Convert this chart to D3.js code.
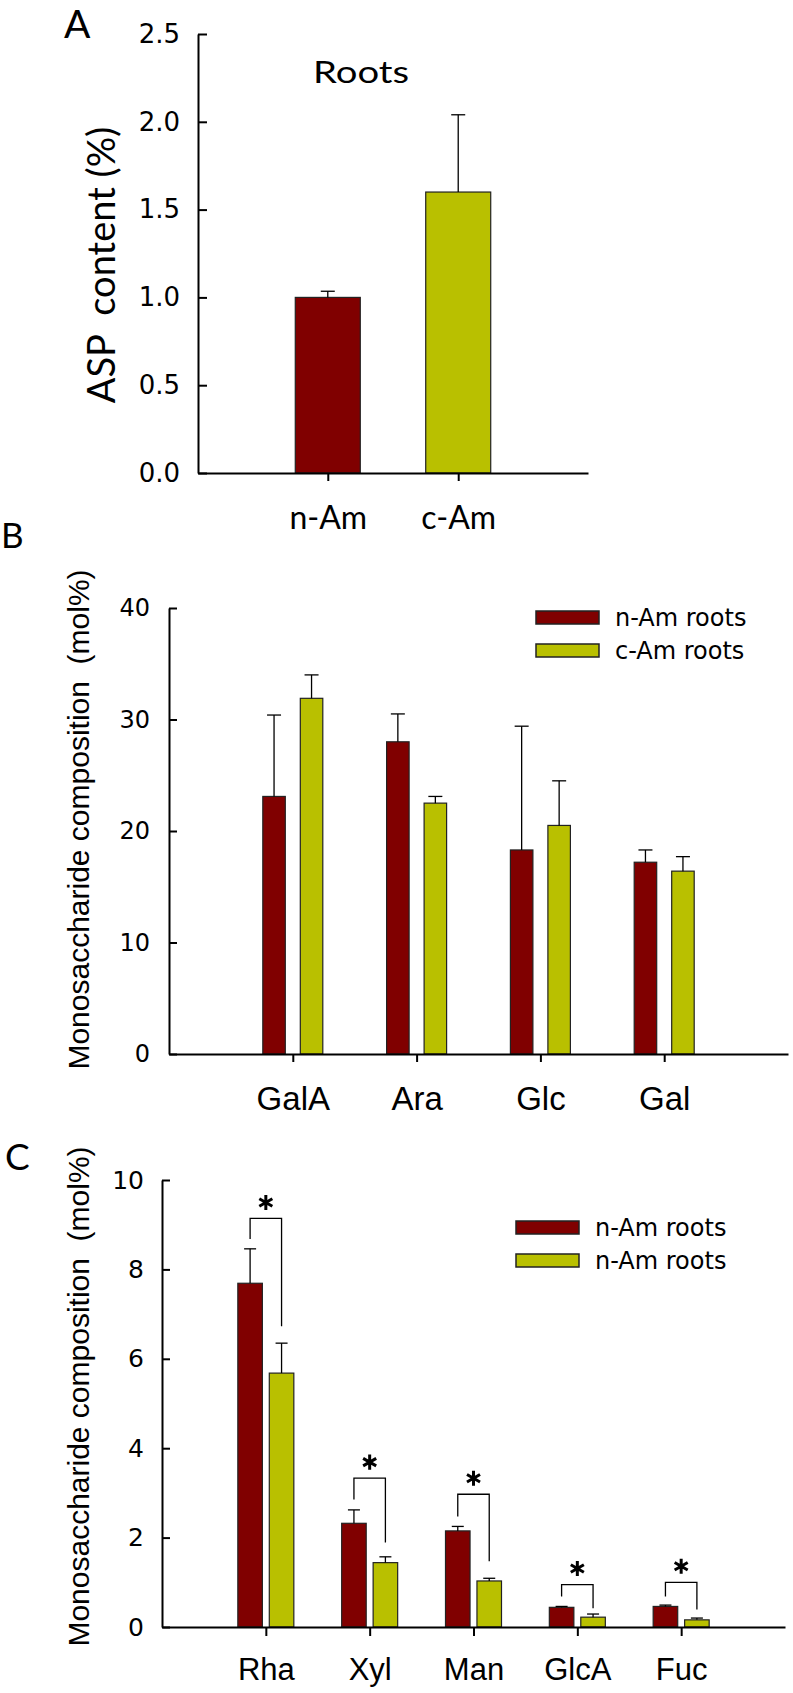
<!DOCTYPE html>
<html>
<head>
<meta charset="utf-8">
<script src="https://cdn.jsdelivr.net/npm/d3@7"></script>
<style>
  body { margin: 0; background: #fff; }
  svg { display: block; background: #fff; }
</style>
</head>
<body>
<svg id="chart"></svg>
<script>
// Panel A: ASP content (%) in roots
const aCategories = ["n-Am", "c-Am"];
const aValues = [1.0, 1.60];
const aErrors = [0.035, 0.44];
const aTicks = [0, 0.5, 1.0, 1.5, 2.0, 2.5];

// Panel B: major monosaccharides (mol%)
const bCategories = ["GalA", "Ara", "Glc", "Gal"];
const bNAm = [23.1, 28.0, 18.3, 17.2];
const bNAmErr = [7.3, 2.5, 11.1, 1.1];
const bCAm = [31.9, 22.5, 20.5, 16.4];
const bCAmErr = [2.1, 0.6, 4.0, 1.3];
const bTicks = [0, 10, 20, 30, 40];
const bLegend = ["n-Am roots", "c-Am roots"];

// Panel C: minor monosaccharides (mol%) with significance brackets
const cCategories = ["Rha", "Xyl", "Man", "GlcA", "Fuc"];
const cNAm = [7.69, 2.32, 2.15, 0.44, 0.46];
const cNAmErr = [0.77, 0.30, 0.10, 0.02, 0.03];
const cCAm = [5.68, 1.44, 1.03, 0.22, 0.16];
const cCAmErr = [0.67, 0.13, 0.06, 0.07, 0.04];
const cBracketTop = [9.14, 3.33, 2.97, 0.95, 1.0];
const cBracketLeft = [8.68, 2.85, 2.47, 0.68, 0.68];
const cBracketRight = [6.73, 1.89, 1.47, 0.42, 0.39];
const cTicks = [0, 2, 4, 6, 8, 10];
const cLegend = ["n-Am roots", "n-Am roots"];

const width = 793, height = 1693;
const maroon = "#800000", olive = "#b9c000";
const seriesColors = [maroon, olive];

const svg = d3.select("#chart")
    .attr("width", width)
    .attr("height", height);

// common axis styling
function styleAxis(g, font, size) {
    g.selectAll("path, line").attr("stroke", "#000").attr("stroke-width", 2);
    g.selectAll("text")
        .attr("fill", "#000")
        .style("font-family", font)
        .style("font-size", size + "px");
}

// vertical error bar going up from the bar top, with a cap
function errorBar(g, cx, y, v, e, capW) {
    g.append("line")
        .attr("x1", cx).attr("x2", cx)
        .attr("y1", y(v)).attr("y2", y(v + e))
        .attr("stroke", "#000").attr("stroke-width", 1.3);
    g.append("line")
        .attr("x1", cx - capW / 2).attr("x2", cx + capW / 2)
        .attr("y1", y(v + e)).attr("y2", y(v + e))
        .attr("stroke", "#000").attr("stroke-width", 1.3);
}

function groupedBars(g, x, sub, y, cats, series, errs, capW) {
    series.forEach((vals, s) => {
        const key = sub.domain()[s];
        g.append("g").selectAll("rect")
            .data(cats)
            .join("rect")
            .attr("x", d => x(d) + sub(key))
            .attr("width", sub.bandwidth())
            .attr("y", (d, i) => y(vals[i]))
            .attr("height", (d, i) => y(0) - y(vals[i]))
            .attr("fill", seriesColors[s])
            .attr("stroke", "#222")
            .attr("stroke-width", 1.2);
    });
    series.forEach((vals, s) => {
        const key = sub.domain()[s];
        cats.forEach((d, i) => {
            errorBar(g, x(d) + sub(key) + sub.bandwidth() / 2, y, vals[i], errs[s][i], capW);
        });
    });
}

function legend(g, labels, x0, y0, rowH) {
    labels.forEach((lab, i) => {
        g.append("rect")
            .attr("x", x0).attr("y", y0 + i * rowH)
            .attr("width", 63).attr("height", 13)
            .attr("fill", seriesColors[i])
            .attr("stroke", "#222").attr("stroke-width", 1.5);
        g.append("text")
            .attr("x", x0 + 79).attr("y", y0 + i * rowH + 15)
            .style("font-family", "DejaVu Sans")
            .style("font-size", "24px")
            .text(lab);
    });
}

// ---------------- Panel A ----------------
const yA = d3.scaleLinear().domain([0, 2.5]).range([473, 34]);
const xA = d3.scalePoint().domain(aCategories).range([198, 588]).padding(0.995);
const gA = svg.append("g");

gA.selectAll("rect")
    .data(aCategories)
    .join("rect")
    .attr("x", d => xA(d) - 32.5)
    .attr("width", 65)
    .attr("y", (d, i) => yA(aValues[i]))
    .attr("height", (d, i) => yA(0) - yA(aValues[i]))
    .attr("fill", (d, i) => seriesColors[i])
    .attr("stroke", "#222")
    .attr("stroke-width", 1.2);
aCategories.forEach((d, i) => errorBar(gA, xA(d), yA, aValues[i], aErrors[i], 14));

gA.append("g")
    .attr("transform", "translate(198,0)")
    .call(d3.axisLeft(yA).tickValues(aTicks).tickFormat(d3.format(".1f"))
        .tickSize(-9).tickSizeOuter(0).tickPadding(18))
    .call(g => styleAxis(g, "DejaVu Sans", 26));
gA.append("g")
    .attr("transform", "translate(0,473)")
    .call(d3.axisBottom(xA).tickSize(8).tickSizeOuter(0).tickPadding(25))
    .call(g => styleAxis(g, "Lato", 32));

gA.append("text")
    .attr("transform", "translate(115,265) rotate(-90)")
    .attr("text-anchor", "middle")
    .style("font-family", "Lato")
    .style("font-size", "38px")
    .style("white-space", "pre")
    .text("ASP  content (%)");
gA.append("text")
    .attr("x", 313).attr("y", 83)
    .attr("textLength", 96).attr("lengthAdjust", "spacingAndGlyphs")
    .style("font-family", "Lato")
    .style("font-size", "31px")
    .text("Roots");
gA.append("text")
    .attr("x", 64).attr("y", 38)
    .style("font-family", "Lato")
    .style("font-size", "39px")
    .text("A");

// ---------------- Panel B ----------------
const yB = d3.scaleLinear().domain([0, 40]).range([1054, 608]);
const xB = d3.scalePoint().domain(bCategories).range([169, 788]).padding(1);
const subB = d3.scaleBand().domain(["n", "c"]).range([-30, 30]).paddingInner(0.4);
const gB = svg.append("g");

groupedBars(gB, xB, subB, yB, bCategories, [bNAm, bCAm], [bNAmErr, bCAmErr], 14);

gB.append("g")
    .attr("transform", "translate(169,0)")
    .call(d3.axisLeft(yB).tickValues(bTicks).tickSize(-8).tickSizeOuter(0).tickPadding(19))
    .call(g => styleAxis(g, "DejaVu Sans", 24));
gB.append("g")
    .attr("transform", "translate(0,1054)")
    .call(d3.axisBottom(xB).tickSize(8).tickSizeOuter(0).tickPadding(24.6))
    .call(g => styleAxis(g, "Liberation Sans", 33));

legend(gB, bLegend, 536, 611, 33);

gB.append("text")
    .attr("transform", "translate(89,819.5) rotate(-90)")
    .attr("text-anchor", "middle")
    .style("font-family", "Liberation Sans")
    .style("font-size", "30px")
    .style("white-space", "pre")
    .text("Monosaccharide composition  (mol%)");
gB.append("text")
    .attr("x", 1).attr("y", 548)
    .style("font-family", "Lato")
    .style("font-size", "35px")
    .text("B");

// ---------------- Panel C ----------------
const yC = d3.scaleLinear().domain([0, 10]).range([1627, 1180]);
const xC = d3.scalePoint().domain(cCategories).range([162, 785]).padding(1);
const subC = d3.scaleBand().domain(["n", "c"]).range([-28, 28]).paddingInner(0.22);
const gC = svg.append("g");

groupedBars(gC, xC, subC, yC, cCategories, [cNAm, cCAm], [cNAmErr, cCAmErr], 12);

// significance brackets with asterisks
cCategories.forEach((d, i) => {
    const xl = xC(d) + subC("n") + subC.bandwidth() / 2;
    const xr = xC(d) + subC("c") + subC.bandwidth() / 2;
    const line = d3.line();
    gC.append("path")
        .attr("d", line([[xl, yC(cBracketLeft[i])], [xl, yC(cBracketTop[i])],
                         [xr, yC(cBracketTop[i])], [xr, yC(cBracketRight[i])]]))
        .attr("fill", "none")
        .attr("stroke", "#000")
        .attr("stroke-width", 1.3);
    gC.append("path")
        .attr("d", d3.symbol(d3.symbolAsterisk, 160)())
        .attr("transform", `translate(${(xl + xr) / 2},${yC(cBracketTop[i]) - 16})`)
        .attr("fill", "none")
        .attr("stroke", "#000")
        .attr("stroke-width", 3);
});

gC.append("g")
    .attr("transform", "translate(162,0)")
    .call(d3.axisLeft(yC).tickValues(cTicks).tickSize(-8).tickSizeOuter(0).tickPadding(18))
    .call(g => styleAxis(g, "DejaVu Sans", 25));
gC.append("g")
    .attr("transform", "translate(0,1627)")
    .call(d3.axisBottom(xC).tickSize(9).tickSizeOuter(0).tickPadding(21.7))
    .call(g => styleAxis(g, "Liberation Sans", 31));

legend(gC, cLegend, 516, 1221, 33);

gC.append("text")
    .attr("transform", "translate(89,1396.5) rotate(-90)")
    .attr("text-anchor", "middle")
    .style("font-family", "Liberation Sans")
    .style("font-size", "30px")
    .style("white-space", "pre")
    .text("Monosaccharide composition  (mol%)");
gC.append("text")
    .attr("x", 5).attr("y", 1170)
    .style("font-family", "Lato")
    .style("font-size", "37px")
    .text("C");
</script>
</body>
</html>
